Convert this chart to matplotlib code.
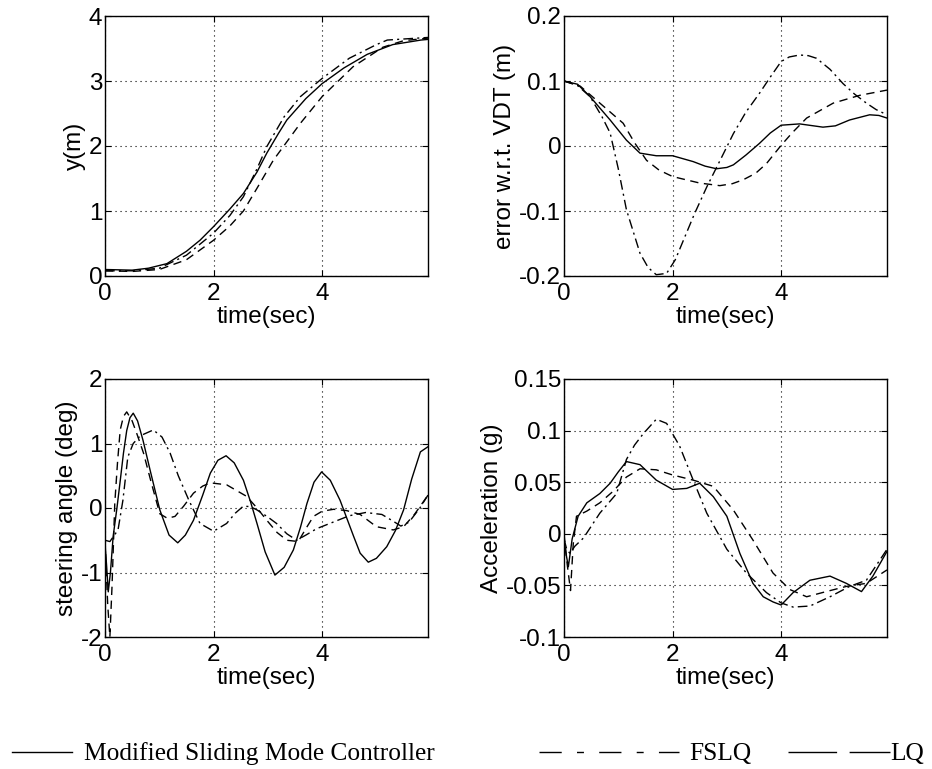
import matplotlib
matplotlib.use("Agg")
import matplotlib.pyplot as plt
from matplotlib.lines import Line2D

# ---------------- data ----------------
# y(m)
t_y_msmc = [0, 0.5, 0.8, 1.14, 1.5, 1.75, 2.0, 2.3, 2.55, 2.8, 2.98, 3.2, 3.35, 3.7, 4.0, 4.4, 4.83, 5.3, 5.82, 5.95]
y_msmc = [0.10, 0.09, 0.12, 0.19, 0.38, 0.55, 0.76, 1.03, 1.27, 1.6, 1.89, 2.2, 2.4, 2.73, 2.96, 3.2, 3.41, 3.56, 3.63, 3.64]
t_y_fslq = [0, 0.5, 1.0, 1.5, 2.0, 2.3, 2.55, 2.8, 2.98, 3.3, 3.6, 4.0, 4.5, 5.0, 5.2, 5.95]
y_fslq = [0.08, 0.08, 0.12, 0.32, 0.66, 0.93, 1.22, 1.65, 1.99, 2.45, 2.76, 3.04, 3.35, 3.56, 3.63, 3.67]
t_y_lq = [0, 0.5, 1.0, 1.5, 2.0, 2.3, 2.55, 2.8, 3.1, 3.6, 4.0, 4.57, 5.12, 5.5, 5.95]
y_lq = [0.08, 0.07, 0.10, 0.25, 0.55, 0.77, 1.0, 1.35, 1.78, 2.35, 2.76, 3.22, 3.52, 3.62, 3.66]

# error w.r.t. VDT (m)
t_e_msmc = [0, 0.25, 0.48, 0.85, 1.15, 1.4, 1.7, 2.0, 2.38, 2.6, 2.81, 3.0, 3.12, 3.35, 3.6, 3.8, 4.0, 4.34, 4.77, 5.0, 5.26, 5.63, 5.8, 5.95]
e_msmc = [0.1, 0.095, 0.076, 0.04, 0.009, -0.011, -0.015, -0.015, -0.024, -0.031, -0.035, -0.033, -0.029, -0.014, 0.004, 0.02, 0.032, 0.034, 0.029, 0.031, 0.04, 0.048, 0.047, 0.043]
t_e_fslq = [0, 0.25, 0.48, 0.7, 0.85, 1.0, 1.15, 1.4, 1.55, 1.7, 1.89, 2.05, 2.2, 2.4, 2.63, 2.9, 3.12, 3.35, 3.6, 3.8, 4.0, 4.15, 4.34, 4.5, 4.65, 4.9, 5.14, 5.35, 5.57, 5.75, 5.95]
e_fslq = [0.1, 0.093, 0.076, 0.045, 0.02, -0.035, -0.098, -0.165, -0.187, -0.198, -0.196, -0.175, -0.145, -0.105, -0.063, -0.018, 0.019, 0.052, 0.081, 0.106, 0.13, 0.137, 0.14, 0.139, 0.135, 0.118, 0.096, 0.08, 0.066, 0.056, 0.048]
t_e_lq = [0, 0.3, 0.66, 1.09, 1.3, 1.52, 1.75, 2.0, 2.5, 2.87, 3.1, 3.3, 3.53, 3.73, 4.0, 4.2, 4.47, 4.96, 5.45, 5.95]
e_lq = [0.1, 0.092, 0.066, 0.035, 0.005, -0.022, -0.037, -0.047, -0.057, -0.061, -0.058, -0.052, -0.042, -0.027, 0.001, 0.02, 0.043, 0.066, 0.078, 0.086]

# steering angle (deg)
t_s_msmc = [0, 0.03, 0.06, 0.1, 0.15, 0.22, 0.28, 0.34, 0.4, 0.46, 0.52, 0.6, 0.7, 0.83, 1.01, 1.18, 1.34, 1.48, 1.63, 1.8, 1.94, 2.08, 2.23, 2.38, 2.55, 2.68, 2.8, 2.95, 3.13, 3.3, 3.47, 3.6, 3.72, 3.85, 3.99, 4.15, 4.33, 4.58, 4.7, 4.85, 5.0, 5.19, 5.35, 5.5, 5.65, 5.81, 5.95]
s_msmc = [-0.55, -0.9, -1.3, -1.0, -0.44, 0.0, 0.42, 0.85, 1.2, 1.4, 1.47, 1.35, 1.05, 0.59, -0.03, -0.42, -0.54, -0.42, -0.19, 0.2, 0.54, 0.74, 0.81, 0.7, 0.43, 0.1, -0.24, -0.68, -1.04, -0.92, -0.65, -0.3, 0.07, 0.4, 0.56, 0.43, 0.12, -0.44, -0.7, -0.84, -0.78, -0.6, -0.35, -0.03, 0.45, 0.87, 0.95]
t_s_fslq = [0, 0.09, 0.24, 0.33, 0.42, 0.52, 0.65, 0.89, 1.05, 1.2, 1.35, 1.54, 1.75, 2.0, 2.24, 2.4, 2.55, 2.68, 2.8, 3.0, 3.16, 3.35, 3.53, 3.7, 3.9, 4.2, 4.5, 4.8, 5.1, 5.3, 5.45, 5.6, 5.8, 5.95]
s_fslq = [-0.5, -0.52, -0.34, 0.12, 0.79, 1.0, 1.12, 1.21, 1.1, 0.85, 0.5, 0.13, -0.24, -0.36, -0.24, -0.08, 0.03, 0.02, -0.03, -0.14, -0.24, -0.4, -0.5, -0.42, -0.32, -0.22, -0.12, -0.07, -0.1, -0.2, -0.28, -0.22, 0.0, 0.2]
t_s_lq = [0, 0.05, 0.09, 0.13, 0.18, 0.23, 0.28, 0.34, 0.4, 0.5, 0.6, 0.71, 0.85, 1.01, 1.15, 1.29, 1.45, 1.63, 1.8, 1.94, 2.24, 2.61, 2.8, 2.98, 3.17, 3.35, 3.56, 3.7, 3.84, 4.0, 4.21, 4.45, 4.7, 5.0, 5.31, 5.5, 5.7, 5.95]
s_lq = [-0.5, -1.5, -2.0, -1.2, 0.07, 0.7, 1.21, 1.42, 1.49, 1.35, 1.12, 0.85, 0.4, -0.09, -0.16, -0.13, 0.03, 0.23, 0.34, 0.39, 0.36, 0.18, 0.0, -0.19, -0.38, -0.5, -0.52, -0.32, -0.13, -0.05, -0.02, -0.04, -0.1, -0.29, -0.34, -0.29, -0.1, 0.2]

# Acceleration (g)
t_a_msmc = [0, 0.04, 0.08, 0.15, 0.26, 0.42, 0.66, 0.85, 1.0, 1.15, 1.4, 1.7, 2.0, 2.26, 2.5, 2.75, 3.0, 3.24, 3.48, 3.67, 3.85, 4.0, 4.22, 4.53, 4.9, 5.2, 5.48, 5.69, 5.95]
a_msmc = [-0.006, -0.02, -0.032, -0.005, 0.017, 0.03, 0.039, 0.049, 0.06, 0.07, 0.067, 0.052, 0.043, 0.044, 0.049, 0.036, 0.017, -0.019, -0.048, -0.061, -0.066, -0.069, -0.057, -0.045, -0.041, -0.048, -0.056, -0.041, -0.017]
t_a_fslq = [0, 0.05, 0.11, 0.2, 0.36, 0.66, 0.97, 1.15, 1.3, 1.46, 1.7, 1.89, 2.13, 2.38, 2.63, 3.0, 3.36, 3.73, 4.0, 4.22, 4.53, 4.9, 5.26, 5.57, 5.95]
a_fslq = [-0.005, -0.015, -0.019, -0.012, -0.004, 0.02, 0.039, 0.072, 0.086, 0.097, 0.111, 0.107, 0.085, 0.052, 0.02, -0.015, -0.038, -0.057, -0.067, -0.071, -0.07, -0.061, -0.051, -0.045, -0.015]
t_a_lq = [0, 0.06, 0.12, 0.17, 0.23, 0.42, 0.66, 0.9, 1.15, 1.4, 1.7, 2.0, 2.38, 2.75, 3.12, 3.48, 3.85, 4.16, 4.47, 4.83, 5.2, 5.57, 5.95]
a_lq = [0.0, -0.03, -0.055, -0.01, 0.017, 0.022, 0.03, 0.041, 0.055, 0.063, 0.062, 0.057, 0.052, 0.046, 0.023, -0.006, -0.038, -0.054, -0.061, -0.056, -0.051, -0.048, -0.035]

x_ticks = [0, 2, 4]
legend_labels = ["Modified Sliding Mode Controller", "FSLQ", "LQ"]

# ---------------- style ----------------
plt.rcParams['font.family'] = ['Liberation Sans', 'DejaVu Sans']
TICK_FS = 17.5
LAB_FS = 17.5

fig = plt.figure(figsize=(9.32, 7.69), dpi=100)
W, H = 932.0, 769.0

def ax_at(left, top, right, bottom):
    return fig.add_axes([left / W, 1 - bottom / H, (right - left) / W, (bottom - top) / H])

axes = [
    ax_at(105, 16, 428, 276),
    ax_at(564, 16, 887, 276),
    ax_at(105, 379, 428, 637),
    ax_at(564, 379, 887, 637),
]

solid_kw = dict(color='black', lw=1.0, linestyle='-')
fslq_kw = dict(color='black', lw=1.0, linestyle=(0, (7, 3, 1.5, 3)))
lq_kw = dict(color='black', lw=1.0, linestyle=(0, (6, 4)))

series = [
    ((t_y_msmc, y_msmc), (t_y_fslq, y_fslq), (t_y_lq, y_lq), (0, 4), [0, 1, 2, 3, 4], ['0', '1', '2', '3', '4'], 'y(m)'),
    ((t_e_msmc, e_msmc), (t_e_fslq, e_fslq), (t_e_lq, e_lq), (-0.2, 0.2), [-0.2, -0.1, 0, 0.1, 0.2], ['-0.2', '-0.1', '0', '0.1', '0.2'], 'error w.r.t. VDT (m)'),
    ((t_s_msmc, s_msmc), (t_s_fslq, s_fslq), (t_s_lq, s_lq), (-2, 2), [-2, -1, 0, 1, 2], ['-2', '-1', '0', '1', '2'], 'steering angle (deg)'),
    ((t_a_msmc, a_msmc), (t_a_fslq, a_fslq), (t_a_lq, a_lq), (-0.1, 0.15), [-0.1, -0.05, 0, 0.05, 0.1, 0.15], ['-0.1', '-0.05', '0', '0.05', '0.1', '0.15'], 'Acceleration (g)'),
]

for ax, (m, f, l, ylim, yt, ytl, ylab) in zip(axes, series):
    ax.plot(m[0], m[1], **solid_kw)
    ax.plot(f[0], f[1], **fslq_kw)
    ax.plot(l[0], l[1], **lq_kw)
    ax.set_xlim(0, 5.95)
    ax.set_ylim(*ylim)
    ax.set_xticks(x_ticks)
    ax.set_xticklabels([str(v) for v in x_ticks])
    ax.set_yticks(yt)
    ax.set_yticklabels(ytl)
    ax.grid(True, color='black', linestyle=(0, (1, 3.5)), lw=0.8)
    ax.tick_params(direction='in', length=4, width=0.8, top=True, right=True, labelsize=TICK_FS)
    ax.tick_params(axis='x', pad=5)
    ax.tick_params(axis='y', pad=2)
    for sp in ax.spines.values():
        sp.set_linewidth(1.0)
    ax.set_xlabel('time(sec)', fontsize=LAB_FS, labelpad=1)
    ax.set_ylabel(ylab, fontsize=LAB_FS, labelpad=2)

# ---------------- custom legend ----------------
def fx(px):
    return px / W

def fy(py):
    return 1 - py / H

LEG_FS = 18.3
SERIF = ['Liberation Serif', 'DejaVu Serif']
ly = 752
fig.add_artist(Line2D([fx(12), fx(72)], [fy(ly), fy(ly)], transform=fig.transFigure, color='black', lw=1.0))
fig.text(fx(84), fy(760), legend_labels[0], family=SERIF, fontsize=LEG_FS, va='baseline', ha='left')
fig.add_artist(Line2D([fx(539), fx(679)], [fy(ly), fy(ly)], transform=fig.transFigure, color='black', lw=1.0,
                      linestyle=(0, (16, 11, 5, 11))))
fig.text(fx(689), fy(760), legend_labels[1], family=SERIF, fontsize=LEG_FS, va='baseline', ha='left')
fig.add_artist(Line2D([fx(788), fx(890)], [fy(ly), fy(ly)], transform=fig.transFigure, color='black', lw=1.0,
                      linestyle=(0, (35, 9))))
fig.text(fx(890), fy(760), legend_labels[2], family=SERIF, fontsize=LEG_FS, va='baseline', ha='left')

fig.savefig('out.png', dpi=100)
